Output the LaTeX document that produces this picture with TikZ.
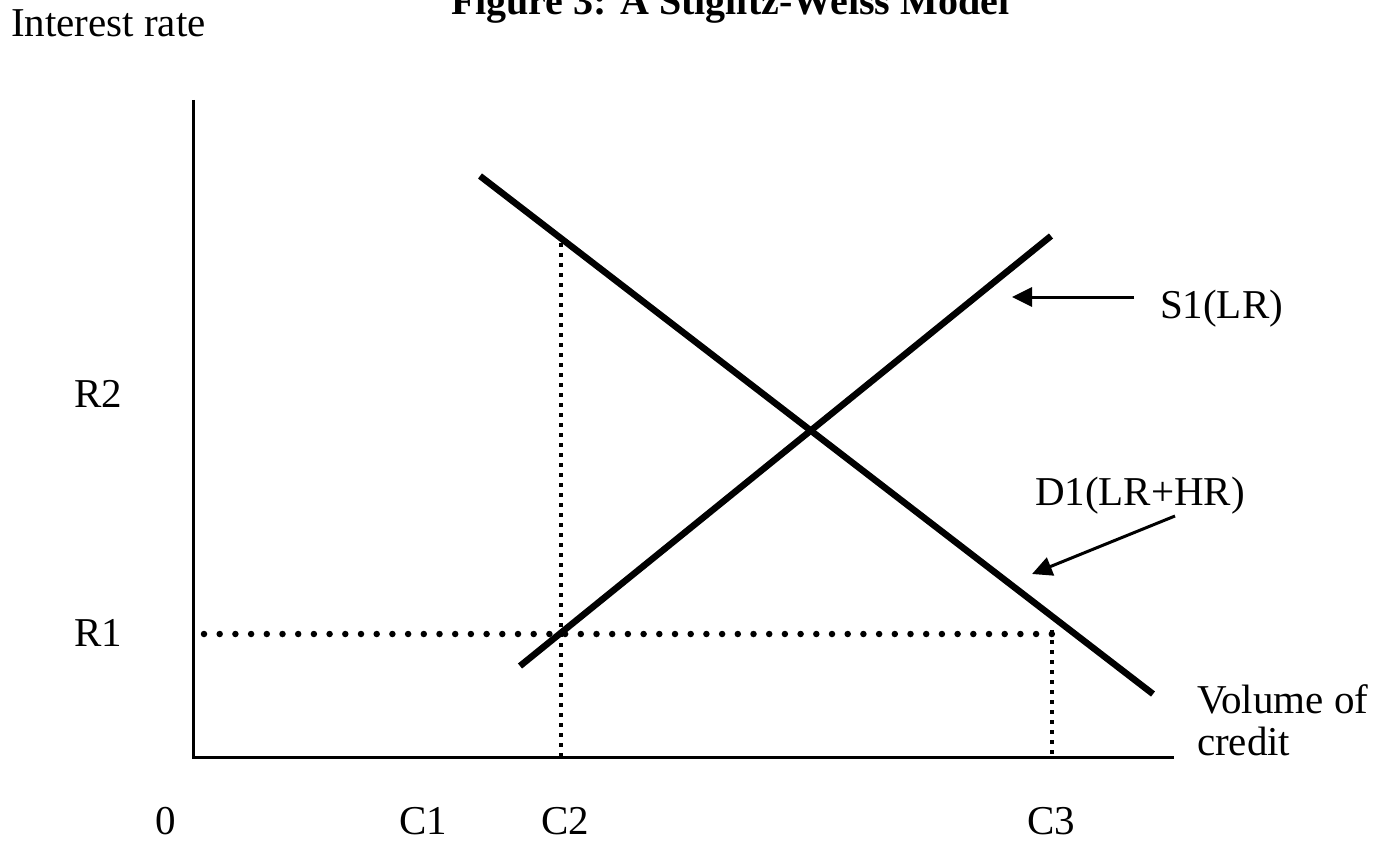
\documentclass[tikz,border=0pt]{standalone}
\usepackage{fontspec}
\setmainfont{Liberation Serif}
\usetikzlibrary{arrows.meta}
\tikzset{
  lbl/.style={anchor=base west,inner sep=0pt,outer sep=0pt,font=\fontsize{41}{42}\selectfont},
  axisline/.style={line width=3pt},
  curve/.style={line width=6.5pt},
  rdots/.style={line width=6.5pt,line cap=round,dash pattern=on 0pt off 15.7pt},
  sqdots/.style={line width=4pt,dash pattern=on 4pt off 6pt},
  ptr/.style={line width=3pt,-{Triangle[length=20pt,width=19pt]}}
}
\begin{document}
\begin{tikzpicture}[x=1pt,y=-1pt]
\useasboundingbox (0,0) rectangle (1383,842);
% title and labels
\node[lbl,font=\fontsize{40}{42}\selectfont\bfseries] (title) at (451,15) {Figure 3: A Stiglitz-Weiss Model};
\node[lbl] (yl) at (11,37) {Interest rate};
\node[lbl] (r2) at (74,407) {R2};
\node[lbl] (r1) at (74,646) {R1};
\node[lbl,anchor=base] (z) at (166,834) {0};
\node[lbl,anchor=base] (c1) at (423,834) {C1};
\node[lbl,anchor=base] (c2) at (565,834) {C2};
\node[lbl,anchor=base] (c3) at (1051,834) {C3};
\node[lbl] (s1) at (1160,318) {S1(LR)};
\node[lbl] (d1) at (1035,505) {D1(LR+HR)};
\node[lbl] (vol) at (1197,713) {Volume of};
\node[lbl] (cred) at (1197,755) {credit};
% axes
\coordinate (ytop) at (193,100);
\coordinate (orig) at (193,757);
\coordinate (xend) at (1174,757);
\draw[axisline] (ytop) -- (orig) -- (xend);
% curves
\coordinate (dA) at (480,176);
\coordinate (dB) at (1153,694);
\coordinate (sA) at (520,666);
\coordinate (sB) at (1051,236);
\draw[curve] (dA) -- (dB);
\draw[curve] (sA) -- (sB);
% dotted guides
\coordinate (r1a) at (204,634);
\coordinate (r1b) at (1052,634);
\coordinate (c2top) at (561,243);
\coordinate (c2bot) at (561,757);
\coordinate (c3bot) at (1052,757);
\draw[rdots] (r1a) -- (r1b);
\draw[sqdots] (c2top) -- (c2bot);
\draw[sqdots] ([yshift=4pt]r1b) -- (c3bot);
% pointers
\coordinate (s1tail) at (1134,297);
\coordinate (s1tip) at (1012,297);
\coordinate (d1tail) at (1175,516);
\coordinate (d1tip) at (1032,574);
\draw[ptr] (s1tail) -- (s1tip);
\draw[ptr] (d1tail) -- (d1tip);
\end{tikzpicture}
\end{document}
